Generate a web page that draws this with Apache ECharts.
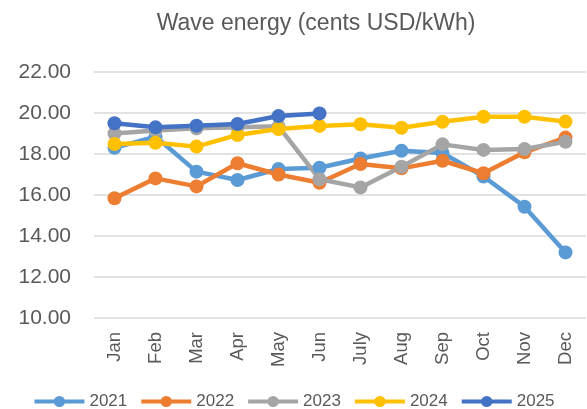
<!DOCTYPE html>
<html><head><meta charset="utf-8">
<script src="https://cdn.jsdelivr.net/npm/echarts@6/dist/echarts.min.js"></script>
<style>html,body{margin:0;padding:0;background:#fff}#c{width:587px;height:409px}</style>
</head><body><div id="c"></div>
<script>
const months = ['Jan','Feb','Mar','Apr','May','Jun','July','Aug','Sep','Oct','Nov','Dec'];
const yTicks = [10, 12, 14, 16, 18, 20, 22];
const s2021 = [18.3, 18.85, 17.14, 16.73, 17.27, 17.33, 17.78, 18.16, 18.05, 16.9, 15.43, 13.2];
const s2022 = [15.84, 16.81, 16.42, 17.55, 17.0, 16.6, 17.51, 17.3, 17.67, 17.06, 18.08, 18.8];
const s2023 = [19.0, 19.15, 19.25, 19.3, 19.35, 16.77, 16.37, 17.38, 18.47, 18.2, 18.24, 18.6];
const s2024 = [18.49, 18.55, 18.36, 18.93, 19.22, 19.37, 19.45, 19.28, 19.57, 19.82, 19.82, 19.58];
const s2025 = [19.5, 19.3, 19.38, 19.46, 19.85, 19.98];
const names = ['2021','2022','2023','2024','2025'];
const colors = ['#5B9BD5','#ED7D31','#A5A5A5','#FFC000','#4472C4'];
const data = [s2021, s2022, s2023, s2024, s2025];
const FONT = 'Liberation Sans';
const chart = echarts.init(document.getElementById('c'), null, {renderer:'canvas'});
chart.setOption({
  animation: false,
  color: colors,
  title: {
    text: 'Wave energy (cents USD/kWh)', left: 311, top: 7, textAlign: 'center',
    textStyle: {color:'#595959', fontSize: 23, fontWeight: 'normal', fontFamily: FONT}
  },
  legend: {
    top: 388, left: 'center', itemWidth: 50, itemHeight: 14, itemGap: 12,
    lineStyle: {width: 4},
    textStyle: {color:'#595959', fontSize: 17, fontFamily: FONT},
    data: names
  },
  grid: {left: 94, right: 1, top: 72, bottom: 91, containLabel: false},
  xAxis: {
    type: 'category', data: months, boundaryGap: true,
    axisLine: {show: false}, axisTick: {show: false},
    axisLabel: {rotate: 90, color:'#595959', fontSize: 18.5, fontFamily: FONT, margin: 14, interval: 0}
  },
  yAxis: {
    type: 'value', min: yTicks[0], max: yTicks[yTicks.length-1], interval: 2,
    axisLine: {show: false}, axisTick: {show: false},
    splitLine: {lineStyle: {color:'#d9d9d9', width: 1.5}},
    axisLabel: {color:'#595959', fontSize: 21, fontFamily: FONT, margin: 23,
      formatter: v => v.toFixed(2)}
  },
  series: data.map((d, i) => ({
    name: names[i], type: 'line', data: d,
    symbol: 'circle', symbolSize: 14,
    lineStyle: {width: 4.5, color: colors[i]},
    itemStyle: {color: colors[i]}
  }))
});
</script></body></html>
